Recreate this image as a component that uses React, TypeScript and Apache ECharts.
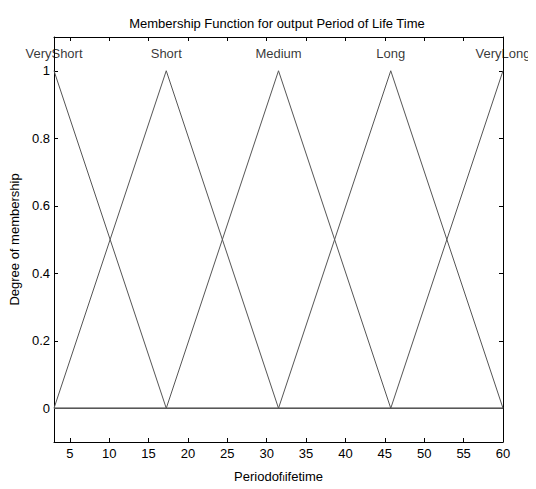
import React, { useEffect, useRef } from "react";
import * as echarts from "echarts";

const mfNames = ["VeryShort", "Short", "Medium", "Long", "VeryLong"];
const mfPeaks = [3, 17.25, 31.5, 45.75, 60];
const veryShort = [[3, 1], [17.25, 0], [60, 0]];
const short = [[3, 0], [17.25, 1], [31.5, 0], [60, 0]];
const medium = [[3, 0], [17.25, 0], [31.5, 1], [45.75, 0], [60, 0]];
const long = [[3, 0], [31.5, 0], [45.75, 1], [60, 0]];
const veryLong = [[3, 0], [45.75, 0], [60, 1]];
const xTicks = [5, 10, 15, 20, 25, 30, 35, 40, 45, 50, 55, 60];
const yTicks = [0, 0.2, 0.4, 0.6, 0.8, 1];
const labelY = 1.05;

const FONT = "Liberation Sans, Arial, Helvetica, sans-serif";
const FS = 13;

export default function App() {
  const ref = useRef<HTMLDivElement>(null);
  useEffect(() => {
    const chart = echarts.init(ref.current!, null, { renderer: "svg" });
    const lineSeries = [veryShort, short, medium, long, veryLong].map((d, i) => ({
      type: "line",
      name: mfNames[i],
      data: d,
      symbol: "none",
      lineStyle: { color: "#555", width: 1 },
      xAxisIndex: 0,
      yAxisIndex: 0,
      z: 2,
    }));
    const axisCommon = {
      axisLine: { show: true, onZero: false, lineStyle: { color: "#000", width: 1 } },
      splitLine: { show: false },
    };
    chart.setOption({
      animation: false,
      backgroundColor: "#fff",
      title: {
        text: "Membership Function for output Period of Life Time",
        left: 272,
        textAlign: "center",
        top: 12,
        textStyle: { fontFamily: FONT, fontSize: FS, fontWeight: "normal", color: "#000" },
      },
      grid: { left: 54, right: 33, top: 37, bottom: 45 },
      xAxis: [
        {
          type: "value",
          min: 3,
          max: 60,
          position: "bottom",
          ...axisCommon,
          axisTick: { show: true, inside: true, length: 4, customValues: xTicks, lineStyle: { color: "#000" } },
          axisLabel: {
            customValues: xTicks,
            fontFamily: FONT,
            fontSize: FS,
            color: "#000",
            margin: 5,
          },
          name: "Periodof{sub|l}ifetime",
          nameLocation: "middle",
          nameGap: 27,
          nameTextStyle: {
            fontFamily: FONT,
            fontSize: FS,
            color: "#000",
            rich: { sub: { fontFamily: FONT, fontSize: 10, color: "#000", verticalAlign: "bottom", padding: [5, 0, 0, 0] } },
          },
        },
        {
          type: "value",
          min: 3,
          max: 60,
          position: "top",
          ...axisCommon,
          axisTick: { show: true, inside: true, length: 4, customValues: xTicks, lineStyle: { color: "#000" } },
          axisLabel: { show: false },
        },
      ],
      yAxis: [
        {
          type: "value",
          min: -0.1,
          max: 1.1,
          position: "left",
          ...axisCommon,
          axisTick: { show: true, inside: true, length: 4, customValues: yTicks, lineStyle: { color: "#000" } },
          axisLabel: {
            customValues: yTicks,
            fontFamily: FONT,
            fontSize: FS,
            color: "#000",
            margin: 4,
            formatter: (v: number) => String(Math.round(v * 10) / 10),
          },
          name: "Degree of membership",
          nameLocation: "middle",
          nameGap: 27,
          nameTextStyle: { fontFamily: FONT, fontSize: FS, color: "#000" },
        },
        {
          type: "value",
          min: -0.1,
          max: 1.1,
          position: "right",
          ...axisCommon,
          axisTick: { show: true, inside: true, length: 4, customValues: yTicks, lineStyle: { color: "#000" } },
          axisLabel: { show: false },
        },
      ],
      series: [
        ...lineSeries,
        {
          type: "scatter",
          data: mfPeaks.map((p, i) => [p, labelY, mfNames[i]]),
          symbolSize: 0,
          silent: true,
          label: {
            show: true,
            position: "inside",
            formatter: (p: any) => p.data[2],
            fontFamily: FONT,
            fontSize: FS,
            color: "#000",
          },
          z: 5,
        },
      ],
    });
    return () => chart.dispose();
  }, []);
  return <div ref={ref} style={{ width: 536, height: 489, margin: -8 }} />;
}
